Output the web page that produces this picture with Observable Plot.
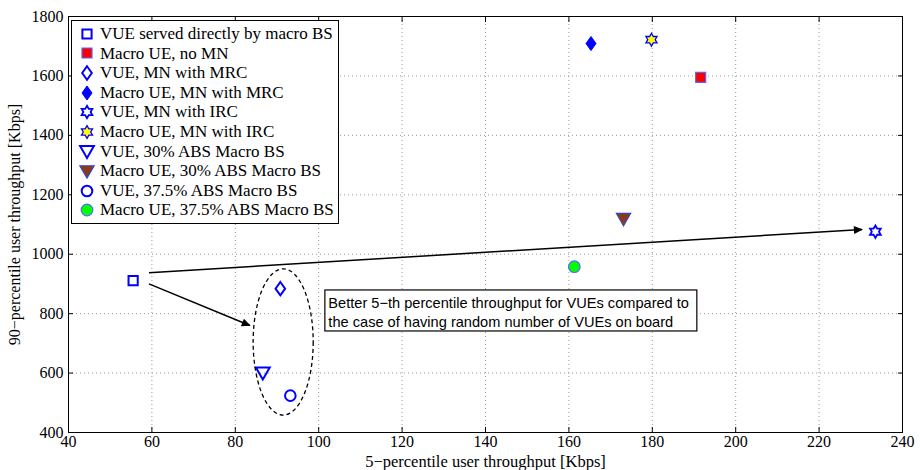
<!DOCTYPE html>
<html>
<head>
<meta charset="utf-8">
<script src="https://cdn.jsdelivr.net/npm/d3@7"></script>
<script src="https://cdn.jsdelivr.net/npm/@observablehq/plot@0.6"></script>
<style>
  body { margin: 0; background: #fff; }
  #wrap { position: relative; width: 920px; height: 470px; }
  #legend { position: absolute; left: 71px; top: 20px; width: 266px; height: 199px;
            border: 1.5px solid #000; background: #fff; font-family: "Liberation Serif", serif;
            font-size: 17px; padding-top: 3px; box-sizing: content-box; }
  .row { height: 19.6px; line-height: 19.6px; display: flex; align-items: center; white-space: nowrap; }
  .row svg { margin-left: 6px; margin-right: 4px; flex: none; }
</style>
</head>
<body>
<div id="wrap"><div id="chart"></div><div id="legend"></div></div>
<script>
// ---- data ----
const seriesNames = [
  "VUE served directly by macro BS",
  "Macro UE, no MN",
  "VUE, MN with MRC",
  "Macro UE, MN with MRC",
  "VUE, MN with IRC",
  "Macro UE, MN with IRC",
  "VUE, 30% ABS Macro BS",
  "Macro UE, 30% ABS Macro BS",
  "VUE, 37.5% ABS Macro BS",
  "Macro UE, 37.5% ABS Macro BS"
];
const throughput5 = [55.5, 191.6, 90.8, 165.3, 233.5, 179.8, 86.6, 173.1, 93.2, 161.3];
const throughput90 = [911, 1595, 884, 1709, 1076, 1722, 602, 1120, 524, 958];
const xTicks = [40, 60, 80, 100, 120, 140, 160, 180, 200, 220, 240];
const yTicks = [400, 600, 800, 1000, 1200, 1400, 1600, 1800];
// annotation arrows (data units): from -> to
const arrowFromX = [59.3, 59.3];
const arrowFromY = [938, 900];
const arrowToX = [230.3, 83.5];
const arrowToY = [1083, 760];
// highlighted cluster ellipse (data units)
const clusterCenter = [91.6, 703];
const clusterRadius = [7.2, 246];
// note box (data units)
const noteLines = ["Better 5\u2212th percentile throughput for VUEs compared to",
                   "the case of having random number of VUEs on board"];
const noteBox = {x1: 101.6, x2: 190.8, y1: 740, y2: 878};

// ---- styles ----
const poly = (pts) => ({draw(ctx, size) {
  const r = Math.sqrt(size / Math.PI);
  pts.forEach(([a, b], i) => i ? ctx.lineTo(a * r, b * r) : ctx.moveTo(a * r, b * r));
  ctx.closePath();
}});
const hexPts = d3.range(12).map(k => {
  const a = (-90 + 30 * k) * Math.PI / 180, rr = k % 2 ? 0.577 : 1;
  return [rr * Math.cos(a), rr * Math.sin(a)];
});
const SYM = {
  square: poly([[-1,-1],[1,-1],[1,1],[-1,1]]),
  diamond: poly([[0,-1.4],[1,0],[0,1.4],[-1,0]]),
  hex: poly(hexPts),
  tri: poly([[-1.15,-0.85],[1.15,-0.85],[0,1.15]]),
  circle: d3.symbolCircle
};
const BLUE = "#0000ff";
const styles = [
  {sym: "square", r: 4.6, fill: "none", sw: 2},
  {sym: "square", r: 5, fill: "#ff0000", sw: 1.2, stroke: "#5566ff"},
  {sym: "diamond", r: 4.8, fill: "none", sw: 2},
  {sym: "diamond", r: 5, fill: BLUE, sw: 1},
  {sym: "hex", r: 6.2, fill: "none", sw: 1.8},
  {sym: "hex", r: 6.4, fill: "#ffff00", sw: 1.3},
  {sym: "tri", r: 6, fill: "none", sw: 2},
  {sym: "tri", r: 6.2, fill: "#8c3a14", sw: 1.2, stroke: "#3344cc"},
  {sym: "circle", r: 5.3, fill: "none", sw: 2},
  {sym: "circle", r: 5.8, fill: "#00ff00", sw: 1.2, stroke: "#5566ff"}
];

const rows = seriesNames.map((name, i) => ({name, x: throughput5[i], y: throughput90[i], i}));
const arrows = arrowFromX.map((_, i) => ({x1: arrowFromX[i], y1: arrowFromY[i], x2: arrowToX[i], y2: arrowToY[i]}));
const fmt = d3.format("d");

const W = 920, H = 470;
const chart = Plot.plot({
  width: W, height: H,
  marginTop: 16, marginRight: 18, marginBottom: 38, marginLeft: 68,
  style: {fontFamily: "Liberation Serif, serif", fontSize: "16px", color: "#000", background: "#fff"},
  x: {domain: [40, 240]},
  y: {domain: [400, 1800]},
  marks: [
    Plot.gridX(xTicks, {stroke: "#999", strokeOpacity: 1, strokeDasharray: "1,3"}),
    Plot.gridY(yTicks, {stroke: "#999", strokeOpacity: 1, strokeDasharray: "1,3"}),
    Plot.axisX({ticks: xTicks, tickSize: 0, tickPadding: 3, fontSize: 16, tickFormat: fmt, label: null}),
    Plot.axisX({ticks: [], tickSize: 0, fontSize: 16.5,
      label: "5\u2212percentile user throughput [Kbps]", labelAnchor: "center", labelOffset: 34, labelArrow: "none"}),
    Plot.axisY({ticks: yTicks, tickSize: 0, tickPadding: 5, fontSize: 16, tickFormat: fmt,
      label: "90\u2212percentile user throughput [Kbps]", labelAnchor: "center", labelOffset: 60, labelArrow: "none"}),
    Plot.axisX({ticks: xTicks, anchor: "bottom", tickSize: -5, tickFormat: () => "", label: null}),
    Plot.axisX({ticks: xTicks, anchor: "top", tickSize: -5, tickFormat: () => "", label: null}),
    Plot.axisY({ticks: yTicks, anchor: "left", tickSize: -5, tickFormat: () => "", label: null}),
    Plot.axisY({ticks: yTicks, anchor: "right", tickSize: -5, tickFormat: () => "", label: null}),
    Plot.frame({stroke: "#000", strokeWidth: 1}),
    Plot.rect([noteBox], {x1: "x1", x2: "x2", y1: "y1", y2: "y2", fill: "#fff", stroke: "#000", strokeWidth: 1.2}),
    Plot.text([noteLines.join("\n")], {x: noteBox.x1, y: (noteBox.y1 + noteBox.y2) / 2, text: d => d,
      textAnchor: "start", lineAnchor: "middle", dx: 3, lineHeight: 1.3,
      fontFamily: "Liberation Sans, Arial, sans-serif", fontSize: 14.6, fill: "#000"}),
    Plot.link(arrows, {x1: "x1", y1: "y1", x2: "x2", y2: "y2", stroke: "#000", strokeWidth: 1.5}),
    ...rows.map(d => {
      const s = styles[d.i];
      return Plot.dot([d], {x: "x", y: "y", symbol: SYM[s.sym], r: s.r, fill: s.fill,
        stroke: s.stroke || BLUE, strokeWidth: s.sw});
    })
  ]
});

// arrowheads
const svg = d3.select(chart);
svg.append("defs").html('<marker id="ah" viewBox="0 0 10 10" refX="9" refY="5" markerWidth="12" markerHeight="9" markerUnits="userSpaceOnUse" orient="auto"><path d="M0,0.5 L10,5 L0,9.5 z" fill="#000"/></marker>');
svg.selectAll('g[aria-label="link"] path').attr("marker-end", "url(#ah)");

// ellipse via scales
const sx = chart.scale("x"), sy = chart.scale("y");
const cx = sx.apply(clusterCenter[0]), cy = sy.apply(clusterCenter[1]);
const rx = Math.abs(sx.apply(clusterCenter[0] + clusterRadius[0]) - cx);
const ry = Math.abs(sy.apply(clusterCenter[1] + clusterRadius[1]) - cy);
svg.append("ellipse").attr("cx", cx).attr("cy", cy).attr("rx", rx).attr("ry", ry)
  .attr("fill", "none").attr("stroke", "#000").attr("stroke-width", 1.3).attr("stroke-dasharray", "4,3");

document.getElementById("chart").appendChild(chart);

// legend
const legend = d3.select("#legend");
seriesNames.forEach((name, i) => {
  const s = styles[i];
  const row = legend.append("div").attr("class", "row");
  const ls = row.append("svg").attr("width", 18).attr("height", 18);
  ls.append("path").attr("transform", "translate(9,9)")
    .attr("d", d3.symbol(SYM[s.sym], Math.PI * s.r * s.r)())
    .attr("fill", s.fill).attr("stroke", s.stroke || BLUE).attr("stroke-width", s.sw);
  row.append("span").text(name);
});
</script>
</body>
</html>
